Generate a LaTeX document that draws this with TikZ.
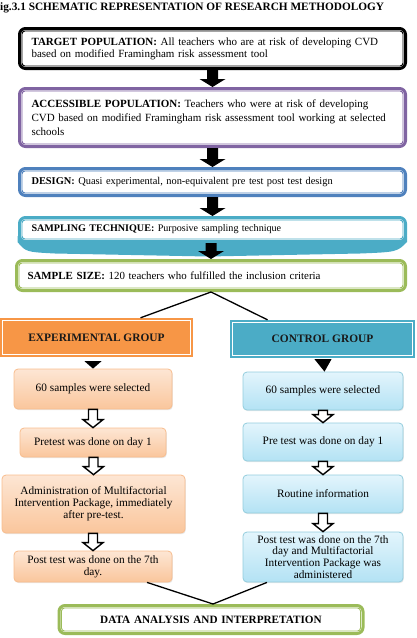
\documentclass[tikz,border=0pt]{standalone}
\usepackage{fontspec}
\setmainfont{Liberation Serif}
\usetikzlibrary{calc,shadows}

\definecolor{cpurple}{HTML}{8064A2}
\definecolor{csteel}{HTML}{4F81BD}
\definecolor{caqua}{HTML}{4BACC6}
\definecolor{cgreen}{HTML}{9BBB59}
\definecolor{corange}{HTML}{F79646}
\definecolor{peachline}{HTML}{F8BD8E}
\definecolor{peachtop}{HTML}{FDE6D4}
\definecolor{peachbot}{HTML}{FAC69C}
\definecolor{skyline}{HTML}{93CDDD}
\definecolor{skytop}{HTML}{E3F5FC}
\definecolor{skybot}{HTML}{B3E2F4}

% filled or hollow block arrow from the point #2 down to the tip #3
\newcommand\blockarrow[5]{% #1 style, #2 top, #3 tip, #4 half shaft, #5 half head
  \path let \p1=(#2), \p2=(#3) in
    [#1] ({\x2-#4},{\y1}) -- ({\x2-#4},{\y2+8pt}) -- ({\x2-#5},{\y2+8pt})
    -- (\x2,\y2) -- ({\x2+#5},{\y2+8pt}) -- ({\x2+#4},{\y2+8pt})
    -- ({\x2+#4},{\y1}) -- cycle;}

\tikzset{
  mainbox/.style={rectangle, rounded corners=6, line width=3, fill=white,
    minimum width=386, text width=362, inner xsep=12, align=left,
    font=\fontsize{11}{12}\selectfont},
  groupbox/.style={rectangle, align=center, text=black!90,
    font=\bfseries\fontsize{11.4}{12}\selectfont},
  expbox/.style={rectangle, rounded corners=4, draw=peachline, line width=0.8,
    top color=peachtop, bottom color=peachbot, align=center, inner sep=2,
    font=\fontsize{11.3}{11.8}\selectfont,
    drop shadow={opacity=0.18, shadow xshift=0.8pt, shadow yshift=-1.2pt}},
  ctlbox/.style={expbox, draw=skyline, top color=skytop, bottom color=skybot},
  solidarrow/.style={fill=black},
  openarrow/.style={draw=black, fill=white, line width=1.4, line join=miter},
  splitline/.style={line width=1.3, black},
}

\begin{document}
\begin{tikzpicture}[x=1pt, y=-1pt]
\useasboundingbox (0,0) rectangle (417,638);

% heading
\node[anchor=base west, inner sep=0, font=\bfseries\fontsize{11.3}{12}\selectfont]
  (title) at (0,10) {ig.3.1 SCHEMATIC REPRESENTATION OF RESEARCH METHODOLOGY};

% tapered lower edge of the sampling technique box
\fill[caqua] (17.5,236) -- (17.5,242) .. controls (26,252) .. (55,253.5)
  -- (208,256.5) -- (360,253.5) .. controls (397,252) .. (407,242) -- (407,236) -- cycle;

% study population and design boxes
\node[mainbox, draw=black, minimum height=40] (b1) at (212.5,48.5)
  {\textbf{TARGET POPULATION:} All teachers who are at risk of developing CVD\\
   based on modified Framingham risk assessment tool};
\node[mainbox, draw=cpurple, minimum height=58, font=\fontsize{11}{13.8}\selectfont] (b2) at (212.5,117.5)
  {\textbf{ACCESSIBLE POPULATION:} Teachers who were at risk of developing\\
   CVD based on modified Framingham risk assessment tool working at selected\\
   schools};
\node[mainbox, draw=csteel, minimum height=27, font=\fontsize{10.4}{12}\selectfont] (b3) at (212.5,182)
  {\textbf{DESIGN:} Quasi experimental, non-equivalent pre test post test design};
\node[mainbox, draw=caqua, minimum height=24, inner xsep=11, font=\fontsize{10.1}{12}\selectfont] (b4) at (212.5,229.5)
  {\textbf{SAMPLING TECHNIQUE:} Purposive sampling technique};
\node[mainbox, draw=cgreen, minimum width=389, text width=367, inner xsep=11, minimum height=30,
  font=\fontsize{10.9}{12}\selectfont] (b5) at (211,275.5)
  {\textbf{SAMPLE SIZE:} 120 teachers who fulfilled the inclusion criteria};

% thin inner rules of the framed boxes
\foreach \n/\c in {b1/black, b2/cpurple, b3/csteel, b4/caqua, b5/cgreen}
  \draw[\c, line width=0.9, rounded corners=3]
    ([shift={(4,4)}]\n.north west) rectangle ([shift={(-4,-4)}]\n.south east);

% arrows between the framed boxes
\blockarrow{solidarrow}{b1.south}{b2.north}{5.5pt}{13pt}
\blockarrow{solidarrow}{b2.south}{b3.north}{5.5pt}{13pt}
\blockarrow{solidarrow}{b3.south}{b4.north}{5.5pt}{13pt}
\blockarrow{solidarrow}{b4.south}{b5.north}{5.5pt}{13pt}

% the two groups
\node[groupbox, fill=corange, minimum width=193, minimum height=39] (exp) at (96.5,337.5) {EXPERIMENTAL GROUP};
\node[groupbox, fill=caqua, minimum width=185, minimum height=38] (ctl) at (322.5,339) {CONTROL GROUP};
\foreach \n in {exp, ctl}
  \draw[white, line width=0.9]
    ([shift={(3,3)}]\n.north west) rectangle ([shift={(-3,-3)}]\n.south east);

\draw[splitline] (b5.south) -- ([xshift=44]exp.north);
\draw[splitline] (b5.south) -- ([xshift=-55]ctl.north);

% experimental group steps
\node[expbox, minimum width=158, minimum height=40] (e1) at (93,389) {60 samples were selected};
\node[expbox, minimum width=146, minimum height=29] (e2) at (93,442.5) {Pretest was done on day 1};
\node[expbox, minimum width=183, minimum height=58] (e3) at (93.5,504)
  {Administration of Multifactorial\\ Intervention Package, immediately\\ after pre-test.};
\node[expbox, minimum width=158, minimum height=31] (e4) at (93,566.5) {Post test was done on the 7th\\ day.};

% control group steps
\node[ctlbox, minimum width=160, minimum height=38] (c1) at (323,391) {60 samples were selected};
\node[ctlbox, minimum width=160, minimum height=38] (c2) at (323,442) {Pre test was done on day 1};
\node[ctlbox, minimum width=160, minimum height=38] (c3) at (323,494) {Routine information};
\node[ctlbox, minimum width=160, minimum height=50] (c4) at (323,557)
  {Post test was done on the 7th\\ day and Multifactorial\\ Intervention Package was\\ administered};

% pointers from the group headers
\fill[black] ([xshift=-8.5,yshift=-4]e1.north |- exp.south) -- ([xshift=8.5,yshift=-4]e1.north |- exp.south) -- (e1.north) -- cycle;
\fill[black] ([xshift=-8.5,yshift=-1]c1.north |- ctl.south) -- ([xshift=8.5,yshift=-1]c1.north |- ctl.south) -- ([xshift=1.5]c1.north) -- cycle;

% open arrows between steps
\blockarrow{openarrow}{e1.south}{e2.north}{4.5pt}{10pt}
\blockarrow{openarrow}{e2.south}{e3.north}{4.5pt}{10pt}
\blockarrow{openarrow}{e3.south}{e4.north}{4.5pt}{10pt}
\blockarrow{openarrow}{c1.south}{c2.north}{4.5pt}{10pt}
\blockarrow{openarrow}{c2.south}{c3.north}{4.5pt}{10pt}
\blockarrow{openarrow}{c3.south}{c4.north}{4.5pt}{10pt}

% final stage
\node[mainbox, draw=cgreen, minimum width=297, text width=280, align=center, minimum height=28,
  font=\bfseries\fontsize{11.2}{12}\selectfont] (da) at (211,619.5) {DATA ANALYSIS AND INTERPRETATION};
\draw[cgreen, line width=0.9, rounded corners=3]
  ([shift={(4,4)}]da.north west) rectangle ([shift={(-4,-4)}]da.south east);

\draw[splitline] ([xshift=54]e4.south) -- ([xshift=2]da.north);
\draw[splitline] ([xshift=-56]c4.south) -- ([xshift=2]da.north);
\end{tikzpicture}
\end{document}
